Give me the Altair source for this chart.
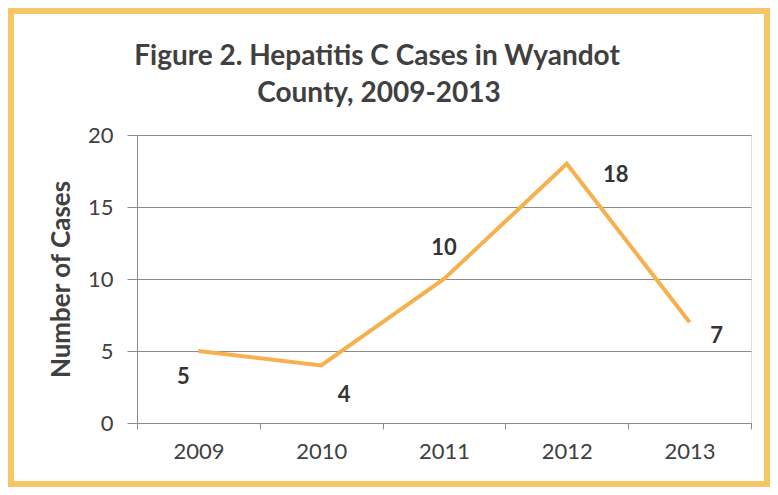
import altair as alt
import pandas as pd

years = ["2009", "2010", "2011", "2012", "2013"]
cases = [5, 4, 10, 18, 7]
title_lines = ["Figure 2. Hepatitis C Cases in Wyandot", "County, 2009-2013"]

df = pd.DataFrame({"year": years, "cases": cases})

# label offsets (style), Excel-like placement per point
LABEL_OFFSETS = {
    "2009": (-15, 26),
    "2010": (23, 30),
    "2011": (0, -31),
    "2012": (49, 11),
    "2013": (27, 14),
}

FONT = "Lato"
GRID = "#8c8c8c"
TEXT = "#404040"
LINE = "#F6B14E"
BORDER = "#F6C566"

W, H = 614, 288

base = alt.Chart(df)

x_enc = alt.X(
    "year:N",
    sort=years,
    title=None,
    scale=alt.Scale(paddingInner=0, paddingOuter=0),
    axis=alt.Axis(
        labelAngle=0,
        labelFontSize=22,
        labelFont=FONT,
        labelColor=TEXT,
        labelPadding=12,
        tickBand="extent",
        ticks=True,
        tickSize=6,
        tickColor=GRID,
        domainColor=GRID,
        grid=False,
    ),
)
y_enc = alt.Y(
    "cases:Q",
    title="Number of Cases",
    scale=alt.Scale(domain=[0, 20], nice=False),
    axis=alt.Axis(
        values=[0, 5, 10, 15, 20],
        labelFontSize=22,
        labelFont=FONT,
        labelColor=TEXT,
        tickSize=10,
        tickColor=GRID,
        labelPadding=14,
        domainColor=GRID,
        gridColor=GRID,
        gridWidth=1,
        titleFont=FONT,
        titleFontSize=26,
        titleFontWeight="bold",
        titleColor=TEXT,
        titlePadding=13,
    ),
)

line = base.mark_line(color=LINE, strokeWidth=4).encode(x=x_enc, y=y_enc)

labels = []
for yr in years:
    dx, dy = LABEL_OFFSETS[yr]
    labels.append(
        base.transform_filter(alt.datum.year == yr)
        .mark_text(
            dx=dx, dy=dy, font=FONT, fontSize=22, fontWeight="bold",
            color="#333333", align="center", baseline="middle",
        )
        .encode(x=alt.X("year:N", sort=years), y="cases:Q", text="cases:Q")
    )

one = alt.Data(values=[{"a": 1}])

title1 = alt.Chart(one).mark_text(
    font=FONT, fontSize=28, fontWeight="bold", color=TEXT,
    align="center", baseline="alphabetic",
).encode(x=alt.value(240), y=alt.value(-70), text=alt.value(title_lines[0]))

title2 = alt.Chart(one).mark_text(
    font=FONT, fontSize=28, fontWeight="bold", color=TEXT,
    align="center", baseline="alphabetic",
).encode(x=alt.value(242), y=alt.value(-33), text=alt.value(title_lines[1]))

frame = (
    alt.Chart(one)
    .mark_rect(filled=False, stroke=BORDER, strokeWidth=6)
    .encode(
        x=alt.value(-126),
        x2=alt.value(W + 16),
        y=alt.value(-124),
        y2=alt.value(H + 61),
    )
)

chart = (
    alt.layer(line, *labels, title1, title2, frame)
    .properties(
        width=W,
        height=H,
        autosize=alt.AutoSizeParams(type="none"),
        padding={"left": 129, "top": 127, "right": 19, "bottom": 64},
    )
    .configure_view(stroke=None)
    .configure(background="white")
)

chart.save("out.html", embed_options={"renderer": "svg", "actions": False})
